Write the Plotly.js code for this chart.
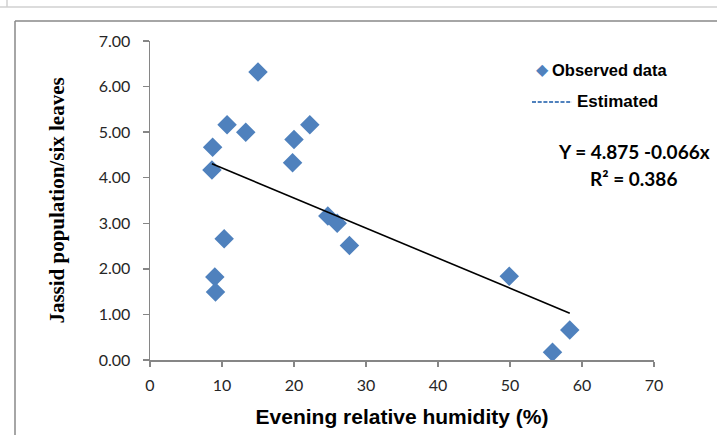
<!DOCTYPE html>
<html>
<head>
<meta charset="utf-8">
<script src="https://cdn.plot.ly/plotly-3.0.1.min.js"></script>
<style>html,body{margin:0;padding:0;background:#fff;}#chart{width:717px;height:435px;}</style>
</head>
<body>
<div id="chart"></div>
<script>
// Evening relative humidity (%)
var humidity = [8.7, 8.6, 10.7, 13.3, 15.0, 20.0, 19.8, 22.2, 24.7, 26.0, 27.7, 10.3, 9.0, 9.1, 49.9, 55.9, 58.3];
// Jassid population / six leaves
var jassid = [4.67, 4.17, 5.16, 5.00, 6.32, 4.84, 4.33, 5.16, 3.16, 3.00, 2.51, 2.66, 1.82, 1.49, 1.84, 0.17, 0.66];
// Regression: Y = a + b x
var intercept = 4.875;
var slope = -0.066;
var r2 = 0.386;
var xTicks = [0, 10, 20, 30, 40, 50, 60, 70];
var yTicks = [0, 1, 2, 3, 4, 5, 6, 7];

var xMin = Math.min.apply(null, humidity);
var xMax = Math.max.apply(null, humidity);
var fitX = [xMin, xMax];
var fitY = fitX.map(function (x) { return intercept + slope * x; });

var blue = '#4F81BD';
var W = 717, H = 435, L = 150, R = 63, T = 41, B = 75;
var pw = W - L - R, ph = H - T - B;
function px(x) { return (x - L) / pw; }
function py(y) { return (H - B - y) / ph; }

var traces = [
  {
    x: humidity, y: jassid, type: 'scatter', mode: 'markers', name: 'Observed data',
    marker: { symbol: 'diamond', size: 15, color: blue, line: { width: 0 } },
    showlegend: false
  },
  {
    x: fitX, y: fitY, type: 'scatter', mode: 'lines', name: 'Estimated',
    line: { color: '#000', width: 1.6 }, showlegend: false
  }
];

var tickFont = { family: 'Lato, "Open Sans", sans-serif', size: 16, color: '#262626' };

var layout = {
  width: W, height: H,
  margin: { l: L, r: R, t: T, b: B, pad: 0 },
  paper_bgcolor: '#fff', plot_bgcolor: '#fff',
  showlegend: false,
  xaxis: {
    range: [0, 70], tickvals: xTicks, ticktext: xTicks.map(String),
    showgrid: false, zeroline: false, showline: true, linecolor: '#868686', linewidth: 1.5,
    ticks: 'outside', ticklen: 5, tickcolor: '#868686', tickwidth: 1.5,
    ticklabelstandoff: 5,
    tickfont: tickFont,
    title: { text: 'Evening relative humidity (%)', font: { family: '"Liberation Sans", Arial, sans-serif', size: 21, color: '#000', weight: 'bold' }, standoff: 16 }
  },
  yaxis: {
    range: [0, 7], tickvals: yTicks, ticktext: yTicks.map(function (v) { return v.toFixed(2); }),
    showgrid: false, zeroline: false, showline: true, linecolor: '#868686', linewidth: 1.5,
    ticks: 'outside', ticklen: 6, tickcolor: '#868686', tickwidth: 1.5,
    ticklabelstandoff: 9,
    tickfont: tickFont,
    title: { text: 'Jassid population/six leaves', font: { family: '"Liberation Serif", "Times New Roman", serif', size: 21, color: '#000', weight: 'bold' }, standoff: 28 }
  },
  shapes: [
    { type: 'line', xref: 'paper', yref: 'paper', x0: px(0), x1: px(717), y0: py(7), y1: py(7), line: { color: '#d0d0d0', width: 1.5 } },
    { type: 'line', xref: 'paper', yref: 'paper', x0: px(7), x1: px(7), y0: py(0), y1: py(7), line: { color: '#d0d0d0', width: 1.5 } },
    { type: 'line', xref: 'paper', yref: 'paper', x0: px(15), x1: px(717), y0: py(21), y1: py(21), line: { color: '#888', width: 1.5 } },
    { type: 'line', xref: 'paper', yref: 'paper', x0: px(15), x1: px(15), y0: py(21), y1: py(435), line: { color: '#888', width: 1.5 } },
    { type: 'line', xref: 'paper', yref: 'paper', x0: px(532), x1: px(572), y0: py(102), y1: py(102), line: { color: blue, width: 2, dash: '4px,1.7px' } }
  ],
  annotations: [
    { xref: 'paper', yref: 'paper', x: px(542), y: py(69.5), xanchor: 'center', yanchor: 'middle', showarrow: false,
      text: '◆', font: { family: '"DejaVu Sans", sans-serif', size: 16, color: blue } },
    { xref: 'paper', yref: 'paper', x: px(550), y: py(70), xanchor: 'left', yanchor: 'middle', showarrow: false,
      text: '<b>Observed data</b>', font: { family: '"Liberation Sans", Arial, sans-serif', size: 16.5, color: '#000' } },
    { xref: 'paper', yref: 'paper', x: px(575), y: py(101.5), xanchor: 'left', yanchor: 'middle', showarrow: false,
      text: '<b>Estimated</b>', font: { family: '"Liberation Sans", Arial, sans-serif', size: 17, color: '#000' } },
    { xref: 'paper', yref: 'paper', x: px(634), y: py(151), xanchor: 'center', yanchor: 'middle', showarrow: false,
      text: '<b>Y = ' + intercept.toFixed(3) + ' ' + slope.toFixed(3) + 'x</b>', font: { family: 'Lato, sans-serif', size: 19, color: '#000' } },
    { xref: 'paper', yref: 'paper', x: px(633.5), y: py(178), xanchor: 'center', yanchor: 'middle', showarrow: false,
      text: '<b>R² = ' + r2.toFixed(3) + '</b>', font: { family: 'Lato, sans-serif', size: 19, color: '#000' } }
  ]
};

Plotly.newPlot('chart', traces, layout, { displayModeBar: false, staticPlot: true });
</script>
</body>
</html>
